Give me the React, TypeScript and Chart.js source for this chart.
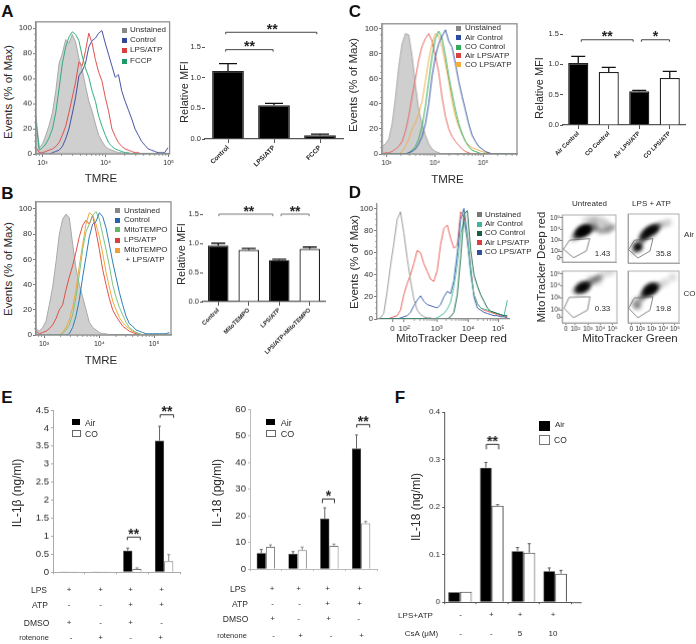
import React, { useEffect, useRef } from "react";
import { Chart, registerables } from "chart.js";
Chart.register(...registerables);

const FONT = '"Liberation Sans", Arial, sans-serif';
const TXT = "#2b2b2b";

// ---------- histogram data (values per channel) ----------
const aUnstained = [30,5,8,15,23,33,50,72,80,91,88,95,89,76,67,54,42,34,24,15,10,6,4,3,2,1,1,0,0,0,0,0,0,0,0,0,0,0,0,0,0];
const aFccp = [25,3,5,8,13,20,33,52,72,85,93,97,95,90,78,68,61,50,42,30,22,15,9,6,4,3,2,1,1,0,0,0,0,0,0,0,0,0,0,0,0];
const aLps = [5,1,1,2,3,4,6,9,15,22,33,45,57,73,70,82,96,88,75,65,58,45,34,20,14,9,6,4,3,2,1,1,0,0,0,0,0,0,0,0,0];
const aControl = [0,0,0,0,0,1,2,3,6,12,20,32,45,62,66,72,85,90,92,96,98,88,79,70,61,63,50,42,35,28,20,15,10,7,4,3,2,1,1,1,5];

const bUnstained = [5,3,6,11,24,38,58,80,92,96,93,72,53,40,30,20,10,6,4,2,1,1,0,0,0,0,0,0,0,0,0,0,0,0,0,0,0,0,0,0,1];
const bControl = [0,0,0,0,0,0,0,0,0,0,1,6,15,28,46,62,78,88,90,97,94,85,72,58,46,34,24,15,9,7,4,3,2,1,1,1,1,1,1,1,2];
const bMito = [0,0,0,0,0,0,0,0,1,4,8,16,30,48,68,82,88,95,98,92,80,68,55,40,30,22,16,10,6,4,2,1,0,0,0,0,0,0,0,0,0];
const bLps = [3,1,2,3,5,8,13,20,24,36,46,55,66,78,87,91,88,95,82,68,52,40,29,20,15,11,7,5,3,2,1,1,0,0,0,0,0,0,0,0,0];
const bMitoLps = [0,0,0,0,0,0,0,0,2,6,12,22,36,55,72,88,97,95,88,78,65,50,38,27,20,14,10,7,5,3,2,1,0,0,0,0,0,0,0,0,0];

const cUnstained = [6,8,12,24,45,70,88,96,95,78,55,35,24,15,8,4,2,1,0,0,0,0,0,0,0,0,0,0,0,0,0,0,0,0,0,0,0,0,0,0,0];
const cAirControl = [0,0,0,0,0,0,0,0,1,2,4,8,14,24,40,62,78,88,94,99,90,85,72,58,46,35,24,15,10,6,4,2,1,0,0,0,0,0,0,0,0];
const cCoControl = [0,0,0,0,0,0,0,0,1,3,6,12,22,38,58,78,92,98,92,78,62,48,35,24,16,10,6,3,2,1,0,0,0,0,0,0,0,0,0,0,0];
const cAirLps = [0,1,1,2,4,6,10,18,30,46,60,75,86,92,96,90,78,65,45,30,20,14,10,7,4,2,1,0,0,0,0,0,0,0,0,0,0,0,0,0,0];
const cCoLps = [0,0,0,0,0,0,2,6,12,20,25,32,42,58,75,88,96,94,85,72,58,42,30,22,16,10,7,5,4,3,2,1,1,0,0,0,0,0,0,0,0];

const dUnstained = [0,1,5,25,48,68,90,97,78,55,35,18,8,4,2,1,1,0,0,0,0,0,0,0,0,0,0,0,0,0,0,0,0,0,0,0,0,0,0,0];
const dAirControl = [0,0,0,0,0,0,0,0,0,0,0,0,0,0,0,0,0,0,1,3,5,9,15,30,50,78,88,72,40,22,14,10,9,8,7,6,5,4,3,17];
const dCoControl = [0,0,0,0,0,0,0,0,0,0,0,0,0,0,0,0,0,0,0,0,0,0,2,6,22,55,95,98,62,40,30,22,16,10,7,6,5,4,3,3];
const dAirLps = [0,0,0,0,1,2,3,8,22,32,40,50,62,60,50,43,36,34,44,67,82,85,73,64,67,97,92,70,45,22,14,10,8,7,6,5,4,3,3,2];
const dCoLps = [0,0,0,0,0,0,0,1,2,3,6,12,17,21,16,13,12,11,10,13,20,25,23,35,60,90,100,75,45,20,10,8,6,5,4,3,3,2,2,1];

// decade tick positions on each channel axis
const aDecades = [1.95, 21.1, 40.2];
const bDecades = [2.4, 19, 35.4];
const cDecades = [1.3, 15.8, 30.3];
const tmreLabels = ["10³", "10⁴", "10⁵"];
const dTicks = [4.6, 8.1, 17.8, 27.3, 36.3];
const dLabels = ["0", "10²", "10³", "10⁴", "10⁵"];
const logMinor = [0.301, 0.477, 0.602, 0.699, 0.778, 0.845, 0.903, 0.954];

// ---------- bar data ----------
const aCats = ["Control", "LPS/ATP", "FCCP"];
const aMfi = [1.11, 0.55, 0.06];
const aMfiTop = [1.23, 0.58, 0.08];
const bCats = ["Control", "MitoTEMPO", "LPS/ATP", "LPS/ATP+MitoTEMPO"];
const bMfi = [0.96, 0.89, 0.71, 0.905];
const bMfiTop = [1.0, 0.91, 0.725, 0.935];
const cCats = ["Air Control", "CO Control", "Air LPS/ATP", "CO LPS/ATP"];
const cMfi = [1.02, 0.875, 0.555, 0.775];
const cMfiTop = [1.13, 0.95, 0.57, 0.885];

const groupCats = ["1", "2", "3", "4"];
const il1Air = [0.01, 0.01, 0.6, 3.65];
const il1AirTop = [0.01, 0.01, 0.67, 4.05];
const il1Co = [0.01, 0.01, 0.09, 0.31];
const il1CoTop = [0.01, 0.01, 0.12, 0.49];
const il18Air = [6, 5.7, 18.9, 45.2];
const il18AirTop = [7.4, 6.6, 23, 50.3];
const il18Co = [8.4, 7.2, 8.8, 17.2];
const il18CoTop = [9.1, 8.3, 9.4, 17.9];
const fAir = [0.021, 0.283, 0.107, 0.065];
const fAirTop = [0.021, 0.294, 0.115, 0.072];
const fCo = [0.022, 0.203, 0.104, 0.06];
const fCoTop = [0.022, 0.205, 0.123, 0.067];

const e1Rows = [
  { label: "LPS", lx: 39, y: 590, xs: [69, 100.5, 130.5, 161.5], marks: ["+", "+", "+", "+"] },
  { label: "ATP", lx: 40, y: 604.5, xs: [69, 100.5, 130.5, 161.5], marks: ["-", "-", "+", "+"] },
  { label: "DMSO", lx: 36.5, y: 622.5, xs: [69, 100.5, 130.5, 161.5], marks: ["+", "-", "+", "-"] },
  { label: "rotenone", lx: 34, y: 638, xs: [71, 100.5, 130.5, 160.5], marks: ["-", "+", "-", "+"] },
];
const e2Rows = [
  { label: "LPS", lx: 238, y: 588.5, xs: [272, 298.5, 327.5, 359.5], marks: ["+", "+", "+", "+"] },
  { label: "ATP", lx: 240, y: 603.5, xs: [272.5, 299.5, 327.5, 359.5], marks: ["-", "-", "+", "+"] },
  { label: "DMSO", lx: 235.5, y: 619, xs: [272.5, 298.5, 328.5, 358.5], marks: ["+", "-", "+", "-"] },
  { label: "rotenone", lx: 232, y: 635.5, xs: [273.5, 300.5, 331, 361.5], marks: ["-", "+", "-", "+"] },
];
const fSigns = ["-", "+", "+", "+"];
const fCsa = ["-", "-", "5", "10"];
const fRowXs = [460.7, 491.3, 520, 553];

// ---------- density panels ----------
const p1Dark = [{x:2.2,y:3.5,r:3},{x:2.35,y:3.62,r:4},{x:2.5,y:3.72,r:4},{x:2.65,y:3.82,r:5},{x:2.8,y:3.9,r:5},{x:2.95,y:3.98,r:4},{x:3.1,y:4.05,r:3}];
const p1Mid = [{x:2.0,y:3.3,r:3},{x:3.4,y:4.15,r:4},{x:3.75,y:4.05,r:3},{x:4.15,y:3.82,r:3},{x:4.65,y:3.9,r:3},{x:5.05,y:4.15,r:3}];
const p1Light = [{x:2.93,y:4.78,r:4},{x:3.43,y:4.91,r:4},{x:3.93,y:4.78,r:5},{x:4.43,y:4.53,r:5},{x:3.5,y:4.45,r:6},{x:4.6,y:4.15,r:5},{x:1.85,y:3.05,r:3}];
const p2Dark = [{x:2.2,y:3.2,r:3},{x:2.4,y:3.42,r:4},{x:2.6,y:3.62,r:4},{x:2.8,y:3.78,r:4},{x:3.0,y:3.88,r:4},{x:3.2,y:3.98,r:4},{x:3.4,y:4.1,r:3},{x:1.85,y:2.46,r:4},{x:1.75,y:2.4,r:3}];
const p2Mid = [{x:1.55,y:2.13,r:3},{x:2.05,y:2.89,r:3},{x:3.68,y:4.28,r:3}];
const p2Light = [{x:4.43,y:4.53,r:4},{x:4.05,y:4.4,r:4},{x:1.6,y:2.6,r:5},{x:3.0,y:3.55,r:5}];
const p3Dark = [{x:2.2,y:3.66,r:3},{x:2.4,y:3.78,r:4},{x:2.6,y:3.88,r:5},{x:2.8,y:3.98,r:4},{x:3.0,y:4.12,r:3}];
const p3Mid = [{x:3.3,y:4.35,r:3},{x:3.6,y:4.55,r:3},{x:3.9,y:4.72,r:3},{x:1.95,y:3.55,r:2}];
const p3Light = [{x:4.3,y:4.99,r:4},{x:4.85,y:5.17,r:4},{x:3.8,y:4.45,r:5},{x:3.2,y:4.55,r:4}];
const p4Dark = [{x:2.4,y:3.36,r:3},{x:2.6,y:3.52,r:4},{x:2.8,y:3.66,r:5},{x:3.0,y:3.78,r:5},{x:3.2,y:3.88,r:4}];
const p4Mid = [{x:1.75,y:2.37,r:4},{x:2.05,y:2.93,r:3},{x:2.25,y:3.15,r:3},{x:3.5,y:4.0,r:3}];
const p4Light = [{x:3.68,y:4.05,r:4},{x:4.18,y:4.32,r:4},{x:4.8,y:4.72,r:4},{x:1.6,y:2.6,r:5}];
const p1Gate = [{x:1.55,y:3.01},{x:3.2,y:3.14},{x:2.93,y:2.05},{x:1.88,y:1.44},{x:1.05,y:2.2},{x:1.55,y:3.01}];
const p2Gate = [{x:1.5,y:3.01},{x:3.1,y:3.14},{x:2.85,y:2.08},{x:1.8,y:1.49},{x:1.0,y:2.2},{x:1.5,y:3.01}];
const p3Gate = [{x:1.5,y:3.04},{x:3.18,y:3.09},{x:2.98,y:1.97},{x:1.85,y:1.33},{x:1.1,y:2.13},{x:1.5,y:3.04}];
const p4Gate = [{x:1.5,y:3.0},{x:3.1,y:3.07},{x:2.85,y:1.97},{x:1.8,y:1.33},{x:1.0,y:2.13},{x:1.5,y:3.0}];
const densXTicks = [1.23, 2, 3, 4, 5];
const densTopYTicks = [1.43, 2, 3, 4, 5];
const densBottomYTicks = [1.4, 2, 3, 4, 5];
const densLabels = ["0", "10²", "10³", "10⁴", "10⁵"];

// ---------- helpers ----------
type Box = { l: number; t: number; r: number; b: number; ml: number; mt: number; mr: number; mb: number };

function ChartBox({ box, config }: { box: Box; config: any }) {
  const ref = useRef<HTMLCanvasElement>(null);
  useEffect(() => {
    const { ml, mt, mr, mb } = box;
    const cfg = { ...config };
    cfg.options = {
      responsive: false,
      animation: false,
      devicePixelRatio: 1,
      layout: { padding: { top: mt, right: mr, left: 0, bottom: 0 } },
      ...config.options,
      plugins: { legend: { display: false }, tooltip: { enabled: false }, ...(config.options.plugins || {}) },
    };
    cfg.options.scales.x.afterFit = (s: any) => { s.height = mb; };
    cfg.options.scales.y.afterFit = (s: any) => { s.width = ml; };
    const c = new Chart(ref.current as any, cfg);
    return () => c.destroy();
  }, []);
  const w = box.r - box.l + box.ml + box.mr;
  const h = box.b - box.t + box.mt + box.mb;
  return (
    <canvas
      ref={ref}
      width={w}
      height={h}
      style={{ position: "absolute", left: box.l - box.ml, top: box.t - box.mt, width: w, height: h }}
    />
  );
}

function T({ x, y, s, size = 8, anchor = "c", rot = 0, bold = false }: any) {
  const tx = anchor === "c" ? "-50%" : anchor === "l" ? "0" : "-100%";
  return (
    <div
      style={{
        position: "absolute", left: x, top: y, whiteSpace: "nowrap", lineHeight: 1, color: bold ? "#111" : TXT,
        fontFamily: FONT, fontSize: size, fontWeight: bold ? 700 : 400,
        transform: `translate(${tx},-50%)` + (rot ? ` rotate(${rot}deg)` : ""),
      }}
    >
      {s}
    </div>
  );
}

function Legend({ x, tx, items, size = 8 }: any) {
  return items.map((it: any) => (
    <React.Fragment key={it.label}>
      {it.c && (
        <div style={{ position: "absolute", left: x - 2.5, top: it.y - 2.5, width: 5, height: 5, background: it.c }} />
      )}
      <T x={it.c ? tx : tx + 1.5} y={it.y} s={it.label} size={size} anchor="l" />
    </React.Fragment>
  ));
}

const series = (v: number[], color: string, extra: any = {}) => ({
  data: v.map((y, i) => ({ x: i, y })),
  borderColor: color,
  borderWidth: 1,
  pointRadius: 0,
  fill: false,
  tension: 0,
  order: 1,
  ...extra,
});
const shaded = (v: number[]) => series(v, "#a9a9a9", { fill: "origin", backgroundColor: "#cfcfcf", order: 10 });
const thin = (v: number[], color: string) => series(v, color);

const framePlugin = (color: string, xMinor: number[], yMinor: number[], width = 1.3) => ({
  id: "frame",
  afterDraw(chart: any) {
    const { ctx, chartArea: a, scales } = chart;
    ctx.save();
    ctx.strokeStyle = color;
    ctx.lineWidth = width;
    ctx.strokeRect(a.left, a.top, a.right - a.left, a.bottom - a.top);
    ctx.strokeStyle = "#888";
    ctx.lineWidth = 0.8;
    xMinor.forEach((v) => {
      const p = scales.x.getPixelForValue(v);
      if (p < a.left || p > a.right) return;
      ctx.beginPath(); ctx.moveTo(p, a.bottom); ctx.lineTo(p, a.bottom + 2); ctx.stroke();
    });
    yMinor.forEach((v) => {
      const p = scales.y.getPixelForValue(v);
      ctx.beginPath(); ctx.moveTo(a.left, p); ctx.lineTo(a.left - 2, p); ctx.stroke();
    });
    ctx.restore();
  },
});

const minorFrom = (decades: number[]) => {
  const step = decades[1] - decades[0];
  const out: number[] = [];
  for (let d = -1; d < decades.length; d++) logMinor.forEach((m) => out.push(decades[0] + (d + m) * step));
  return out;
};
const yMinorTicks = [5, 10, 15, 25, 30, 35, 45, 50, 55, 65, 70, 75, 85, 90, 95];

const histConfig = (datasets: any[], ticks: number[], labels: string[], yMax: number, xMax: number, frame = true, tickFont = 7) => ({
  type: "line",
  data: { datasets },
  options: {
    scales: {
      x: {
        type: "linear", min: 0, max: xMax,
        afterBuildTicks: (s: any) => { s.ticks = ticks.map((value) => ({ value })); },
        ticks: {
          autoSkip: false, maxRotation: 0, minRotation: 0, padding: 2, color: TXT,
          font: { family: FONT, size: tickFont },
          callback: (_v: any, i: number) => labels[i],
        },
        grid: { drawOnChartArea: false, tickLength: 3, color: "#777" },
        border: { color: "#888", width: 1.2 },
      },
      y: {
        min: 0, max: yMax,
        afterBuildTicks: (s: any) => { s.ticks = [0, 20, 40, 60, 80, 100].map((value) => ({ value })); },
        ticks: { padding: 1, color: TXT, font: { family: FONT, size: 8 } },
        grid: { drawOnChartArea: false, tickLength: 3, color: "#777" },
        border: { color: "#888", width: 1.2 },
      },
    },
  },
  plugins: [framePlugin(frame ? "#8f8f8f" : "rgba(0,0,0,0)", minorFrom(ticks.length === 3 ? ticks : [17.8, 27.3, 36.3]), yMinorTicks)],
});

const errorBars = (capHalf: number) => ({
  id: "errs",
  afterDatasetsDraw(chart: any) {
    const { ctx, scales } = chart;
    chart.data.datasets.forEach((ds: any, di: number) => {
      const meta = chart.getDatasetMeta(di);
      ctx.save();
      ctx.strokeStyle = ds.errColor || "#000";
      ctx.lineWidth = ds.errWidth || 1.2;
      meta.data.forEach((bar: any, i: number) => {
        const top = ds.errTop[i];
        if (top === ds.data[i]) return;
        const y1 = scales.y.getPixelForValue(ds.data[i]);
        const y2 = scales.y.getPixelForValue(top);
        ctx.beginPath();
        ctx.moveTo(bar.x, y1); ctx.lineTo(bar.x, y2);
        ctx.moveTo(bar.x - capHalf, y2); ctx.lineTo(bar.x + capHalf, y2);
        ctx.stroke();
      });
      ctx.restore();
    });
  },
});

const brackets = (list: any[], color: string, extendRight = 0) => ({
  id: "brackets",
  afterDraw(chart: any) {
    const { ctx, scales, chartArea: a } = chart;
    ctx.save();
    list.forEach((b) => {
      const x1 = scales.x.getPixelForValue(b.a);
      const x2 = scales.x.getPixelForValue(b.b);
      const y = scales.y.getPixelForValue(b.y);
      ctx.strokeStyle = color;
      ctx.lineWidth = 1;
      ctx.beginPath();
      ctx.moveTo(x1, y + (b.drop || 2)); ctx.lineTo(x1, y); ctx.lineTo(x2, y); ctx.lineTo(x2, y + (b.drop || 2));
      ctx.stroke();
      ctx.fillStyle = "#222";
      ctx.font = `bold 14px ${FONT}`;
      ctx.textAlign = "center";
      ctx.textBaseline = "alphabetic";
      ctx.fillText(b.label, (x1 + x2) / 2 + (b.dx || 0), y + 1.5);
    });
    if (extendRight) {
      ctx.strokeStyle = "#555";
      ctx.lineWidth = 1;
      ctx.beginPath(); ctx.moveTo(a.right, a.bottom + 0.5); ctx.lineTo(a.right + extendRight, a.bottom + 0.5); ctx.stroke();
    }
    ctx.restore();
  },
});

const mfiConfig = (cats: string[], vals: number[], tops: number[], colors: string[], pct: number, capHalf: number, list: any[], bracketColor: string, labelSize: number) => ({
  type: "bar",
  data: {
    labels: cats,
    datasets: [{
      data: vals, errTop: tops, errColor: "#111", errWidth: 1.3,
      backgroundColor: colors, borderColor: "#222", borderWidth: 1.3, barPercentage: pct, categoryPercentage: 1,
    }],
  },
  options: {
    scales: {
      x: {
        ticks: { autoSkip: false, minRotation: 45, maxRotation: 45, padding: 1, color: "#222", font: { family: FONT, size: labelSize, weight: "bold" } },
        grid: { drawOnChartArea: false, offset: false, tickLength: 4, color: "#555" },
        border: { color: "#555", width: 1.2 },
      },
      y: {
        min: 0, max: 1.5,
        ticks: { stepSize: 0.5, padding: 1, color: TXT, font: { family: FONT, size: 7.5 }, callback: (v: number) => v.toFixed(1) },
        grid: { drawOnChartArea: false, tickLength: 3, color: "#555" },
        border: { display: false },
      },
    },
  },
  plugins: [errorBars(capHalf), brackets(list, bracketColor)],
});

const groupConfig = (air: number[], airTop: number[], co: number[], coTop: number[], opt: any, list: any[], extra = 0) => ({
  type: "bar",
  data: {
    labels: groupCats,
    datasets: [
      { data: air, errTop: airTop, errColor: opt.errAir, errWidth: 1, backgroundColor: "#000", borderColor: "#000", borderWidth: 0.5, barPercentage: 1, categoryPercentage: opt.pct },
      { data: co, errTop: coTop, errColor: opt.errCo, errWidth: 1, backgroundColor: "#fff", borderColor: opt.coBorder, borderWidth: 1, barPercentage: 1, categoryPercentage: opt.pct },
    ],
  },
  options: {
    scales: {
      x: {
        ticks: { display: false },
        grid: { drawOnChartArea: false, offset: true, tickLength: 2, color: opt.axis },
        border: { color: opt.axis, width: 1 },
      },
      y: {
        min: 0, max: opt.max,
        ticks: { stepSize: opt.step, padding: opt.padding, color: TXT, font: { family: FONT, size: opt.size }, callback: opt.fmt },
        grid: { drawOnChartArea: false, tickLength: 2, color: opt.axis },
        border: { color: opt.axis, width: 1 },
      },
    },
  },
  plugins: [errorBars(1.5), brackets(list, "#333", extra)],
});

const blur = {
  id: "blur",
  beforeDatasetDraw(chart: any, args: any) {
    if (args.meta.type === "bubble") chart.ctx.filter = "blur(2px)";
  },
  afterDatasetDraw(chart: any) {
    chart.ctx.filter = "none";
  },
};

const blobs = (data: any[], alpha: number, order: number) => ({
  type: "bubble", data, backgroundColor: `rgba(0,0,0,${alpha})`, borderWidth: 0, order,
});

const densConfig = (dark: any[], mid: any[], light: any[], gate: any[], showX: boolean, showY: boolean, yMin: number, yTicks: number[]) => ({
  type: "bubble",
  data: {
    datasets: [
      { type: "scatter", data: gate, showLine: true, borderColor: "#555", borderWidth: 0.7, pointRadius: 0, order: 0 },
      blobs(dark, 0.95, 1),
      blobs(mid, 0.45, 2),
      blobs(light, 0.15, 3),
    ],
  },
  options: {
    scales: {
      x: {
        type: "linear", min: 0.95, max: 5.35,
        afterBuildTicks: (s: any) => { s.ticks = densXTicks.map((value) => ({ value })); },
        ticks: { display: showX, autoSkip: false, maxRotation: 0, padding: 0, color: TXT, font: { family: FONT, size: 6.5 }, callback: (_v: any, i: number) => densLabels[i] },
        grid: { drawOnChartArea: false, drawTicks: showX, tickLength: 2, color: "#777" },
        border: { color: "#999", width: 0.8 },
      },
      y: {
        type: "linear", min: yMin, max: 5.25,
        afterBuildTicks: (s: any) => { s.ticks = yTicks.map((value) => ({ value })); },
        ticks: { display: showY, autoSkip: false, padding: 0, color: TXT, font: { family: FONT, size: 6.5 }, callback: (_v: any, i: number) => densLabels[i] },
        grid: { drawOnChartArea: false, drawTicks: showY, tickLength: 2, color: "#777" },
        border: { color: "#999", width: 0.8 },
      },
    },
  },
  plugins: [blur, framePlugin("#999", [], [], 0.8)],
});

const BW2 = ["#000", "#fff", "#000", "#fff"];

const fmtPlain = (v: number) => String(v);
const fmtF = (v: number) => (v === 0 ? "0" : v.toFixed(1));

function Rows({ rows, size = 8.5 }: any) {
  return rows.map((r: any) => (
    <React.Fragment key={r.label + r.lx}>
      <T x={r.lx} y={r.y} s={r.label} size={r.label === "rotenone" ? 7.5 : size} />
      {r.marks.map((m: string, i: number) => (
        <T key={i} x={r.xs[i]} y={r.y} s={m} size={8} />
      ))}
    </React.Fragment>
  ));
}

export default function App() {
  return (
    <div style={{ position: "absolute", left: 0, top: 0, width: 696, height: 644, overflow: "hidden", background: "#fff" }}>
      {/* Panel A */}
      <ChartBox box={{ l: 36, t: 20, r: 171, b: 153.7, ml: 20, mt: 4, mr: 5, mb: 20 }}
        config={histConfig([shaded(aUnstained), thin(aFccp, "#2fae7a"), thin(aLps, "#e0504c"), thin(aControl, "#44509f")], aDecades, tmreLabels, 105, 40.5)} />
      <ChartBox box={{ l: 205, t: 47.3, r: 343, b: 139.3, ml: 30, mt: 35, mr: 5, mb: 50 }}
        config={mfiConfig(aCats, aMfi, aMfiTop, ["#000", "#000", "#000"], 0.69, 9, [
          { a: -0.05, b: 1.93, y: 1.74, label: "**", dx: 1 },
          { a: -0.05, b: 0.98, y: 1.457, label: "**" },
        ], "#444", 6.5)} />
      {/* Panel B */}
      <ChartBox box={{ l: 36, t: 200, r: 171, b: 335.3, ml: 20, mt: 4, mr: 5, mb: 20 }}
        config={histConfig([shaded(bUnstained), thin(bControl, "#2b7fb8"), thin(bMito, "#7cc47f"), thin(bMitoLps, "#efa93f"), thin(bLps, "#df5045")], bDecades, tmreLabels, 105.7, 40.5)} />
      <ChartBox box={{ l: 202.75, t: 214, r: 324.75, b: 301.7, ml: 30, mt: 20, mr: 5, mb: 65 }}
        config={mfiConfig(bCats, bMfi, bMfiTop, BW2, 0.675, 7, [
          { a: 0.02, b: 1.79, y: 1.5, label: "**", dx: 3 },
          { a: 2.06, b: 2.98, y: 1.5, label: "**" },
        ], "#777", 6)} />
      {/* Panel C */}
      <ChartBox box={{ l: 382.3, t: 21.7, r: 516.7, b: 154.3, ml: 20, mt: 4, mr: 5, mb: 20 }}
        config={histConfig([shaded(cUnstained), thin(cAirControl, "#3c5aa8"), thin(cCoControl, "#35ad5e"), thin(cCoLps, "#efb04a"), thin(cAirLps, "#e56a65")], cDecades, tmreLabels, 103.8, 40.5)} />
      <ChartBox box={{ l: 562.5, t: 34.3, r: 684.5, b: 125.3, ml: 30, mt: 20, mr: 5, mb: 50 }}
        config={mfiConfig(cCats, cMfi, cMfiTop, BW2, 0.66, 7, [
          { a: 0.1, b: 1.8, y: 1.405, label: "**" },
          { a: 2.07, b: 2.99, y: 1.405, label: "*" },
        ], "#444", 6)} />
      {/* Panel D */}
      <ChartBox box={{ l: 377.3, t: 202, r: 509, b: 319.3, ml: 20, mt: 4, mr: 5, mb: 18 }}
        config={histConfig([thin(dUnstained, "#9a9a9a"), thin(dCoControl, "#1f6e4a"), thin(dAirControl, "#4dbba3"), thin(dCoLps, "#4566b0"), thin(dAirLps, "#e8645e")], dTicks, dLabels, 104.2, 39.5, false, 8)} />
      <ChartBox box={{ l: 562, t: 210.7, r: 620.7, b: 265.7, ml: 18, mt: 2, mr: 1, mb: 2 }}
        config={densConfig(p1Dark, p1Mid, p1Light, p1Gate, false, true, 1.06, densTopYTicks)} />
      <ChartBox box={{ l: 624.7, t: 210.7, r: 682.7, b: 265.7, ml: 2, mt: 2, mr: 1, mb: 2 }}
        config={densConfig(p2Dark, p2Mid, p2Light, p2Gate, false, false, 1.06, densTopYTicks)} />
      <ChartBox box={{ l: 562, t: 268.3, r: 620.7, b: 322.7, ml: 18, mt: 2, mr: 1, mb: 12 }}
        config={densConfig(p3Dark, p3Mid, p3Light, p3Gate, true, true, 0.9, densBottomYTicks)} />
      <ChartBox box={{ l: 624.7, t: 268.3, r: 682.7, b: 322.7, ml: 2, mt: 2, mr: 1, mb: 12 }}
        config={densConfig(p4Dark, p4Mid, p4Light, p4Gate, true, false, 0.9, densBottomYTicks)} />
      {/* Panel E */}
      <ChartBox box={{ l: 52.7, t: 410.3, r: 180, b: 573.7, ml: 30, mt: 10, mr: 2, mb: 6 }}
        config={groupConfig(il1Air, il1AirTop, il1Co, il1CoTop,
          { pct: 0.58, errAir: "#666", errCo: "#888", coBorder: "#777", axis: "#aaa", max: 4.5, step: 0.5, padding: 2, size: 9.6, fmt: fmtPlain },
          [{ a: 1.84, b: 2.25, y: 0.975, label: "**", drop: 3 }, { a: 2.875, b: 3.3, y: 4.37, label: "**", drop: 3 }])} />
      <ChartBox box={{ l: 250, t: 409.3, r: 377.3, b: 571, ml: 30, mt: 10, mr: 2, mb: 6 }}
        config={groupConfig(il18Air, il18AirTop, il18Co, il18CoTop,
          { pct: 0.58, errAir: "#666", errCo: "#888", coBorder: "#777", axis: "#bbb", max: 60, step: 10, padding: 2, size: 9.6, fmt: fmtPlain },
          [{ a: 1.78, b: 2.16, y: 26.3, label: "*", drop: 4 }, { a: 2.86, b: 3.27, y: 54.2, label: "**", drop: 3 }])} />
      {/* Panel F */}
      <ChartBox box={{ l: 444.2, t: 411.7, r: 571, b: 603.3, ml: 30, mt: 10, mr: 13, mb: 6 }}
        config={groupConfig(fAir, fAirTop, fCo, fCoTop,
          { pct: 0.74, errAir: "#555", errCo: "#555", coBorder: "#333", axis: "#555", max: 0.4, step: 0.1, padding: 2, size: 8, fmt: fmtF },
          [{ a: 0.83, b: 1.22, y: 0.332, label: "**", drop: 5 }], 10.7)} />

      {/* Panel letters */}
      <T x={7.5} y={11} s="A" size={17} bold />
      <T x={7.5} y={192.5} s="B" size={17} bold />
      <T x={355} y={10.5} s="C" size={17} bold />
      <T x={355} y={192} s="D" size={17} bold />
      <T x={7} y={397} s="E" size={17} bold />
      <T x={400} y={397} s="F" size={17} bold />

      {/* Axis titles */}
      <T x={9} y={91.5} s="Events (% of Max)" size={11.5} rot={-90} />
      <T x={9} y={269} s="Events (% of Max)" size={11.5} rot={-90} />
      <T x={354} y={85} s="Events (% of Max)" size={11.5} rot={-90} />
      <T x={355} y={262} s="Events (% of Max)" size={11.5} rot={-90} />
      <T x={101} y={179} s="TMRE" size={11.5} />
      <T x={101} y={360.5} s="TMRE" size={11.5} />
      <T x={447.5} y={180} s="TMRE" size={11.5} />
      <T x={451.5} y={339} s="MitoTracker Deep red" size={11.5} />
      <T x={630} y={339} s="MitoTracker Green" size={11.5} />
      <T x={541.5} y={266.5} s="MitoTracker Deep red" size={11.5} rot={-90} />
      <T x={184} y={92} s="Relative MFI" size={11} rot={-90} />
      <T x={180.5} y={254} s="Relative MFI" size={11} rot={-90} />
      <T x={539} y={88} s="Relative MFI" size={11} rot={-90} />
      <T x={17} y={492.5} s="IL-1β (ng/ml)" size={12} rot={-90} />
      <T x={216.5} y={493} s="IL-18 (pg/ml)" size={12} rot={-90} />
      <T x={416} y={506.5} s="IL-18 (ng/ml)" size={12} rot={-90} />

      {/* Legends */}
      <Legend x={124} tx={130} items={[
        { c: "#888", label: "Unstained", y: 30 }, { c: "#34459c", label: "Control", y: 40 },
        { c: "#d9403c", label: "LPS/ATP", y: 50 }, { c: "#1f9a66", label: "FCCP", y: 61 }]} />
      <Legend x={117} tx={124} items={[
        { c: "#888", label: "Unstained", y: 210.7 }, { c: "#2463ad", label: "Control", y: 220.3 },
        { c: "#62b868", label: "MitoTEMPO", y: 229.7 }, { c: "#d9403c", label: "LPS/ATP", y: 240 },
        { c: "#efa030", label: "MitoTEMPO ", y: 250 }, { label: "+ LPS/ATP", y: 260 }]} />
      <Legend x={458.3} tx={465} items={[
        { c: "#888", label: "Unstained", y: 28.3 }, { c: "#2a4ba0", label: "Air Control", y: 37.7 },
        { c: "#35a85a", label: "CO Control", y: 47 }, { c: "#d9403c", label: "Air LPS/ATP", y: 55.8 },
        { c: "#efb040", label: "CO LPS/ATP", y: 64.7 }]} />
      <Legend x={479.3} tx={485} items={[
        { c: "#777", label: "Unstained", y: 214.7 }, { c: "#40b49c", label: "Air Control", y: 224.3 },
        { c: "#16603f", label: "CO Control", y: 233.3 }, { c: "#d9403c", label: "Air LPS/ATP", y: 242.7 },
        { c: "#2f4f9f", label: "CO LPS/ATP", y: 252 }]} />

      {/* Density labels */}
      <T x={589.5} y={204} s="Untreated" size={8} />
      <T x={651.5} y={204} s="LPS + ATP" size={8} />
      <T x={689} y={235} s="Air" size={8} />
      <T x={689.5} y={294} s="CO" size={8} />
      <T x={602.5} y={254} s="1.43" size={8} />
      <T x={663.5} y={254} s="35.8" size={8} />
      <T x={602.5} y={309} s="0.33" size={8} />
      <T x={663.5} y={309} s="19.8" size={8} />

      {/* E legends and rows */}
      <div style={{ position: "absolute", left: 72, top: 419, width: 8, height: 6, background: "#000" }} />
      <div style={{ position: "absolute", left: 72, top: 430, width: 7, height: 5, border: "1px solid #666" }} />
      <T x={85} y={422.5} s="Air" size={8.5} anchor="l" />
      <T x={85} y={433.5} s="CO" size={8.5} anchor="l" />
      <div style={{ position: "absolute", left: 266, top: 419, width: 9, height: 6, background: "#000" }} />
      <div style={{ position: "absolute", left: 266, top: 430, width: 8, height: 5, border: "1px solid #666" }} />
      <T x={280.7} y={422.5} s="Air" size={9} anchor="l" />
      <T x={280.7} y={433.5} s="CO" size={9} anchor="l" />
      <Rows rows={e1Rows} />
      <Rows rows={e2Rows} size={8.5} />

      {/* F legend and rows */}
      <div style={{ position: "absolute", left: 538.5, top: 420.5, width: 11, height: 10, background: "#000" }} />
      <div style={{ position: "absolute", left: 538.5, top: 434.5, width: 9.5, height: 8.5, border: "1px solid #777" }} />
      <T x={555} y={425} s="Air" size={8} anchor="l" />
      <T x={554} y={440} s="CO" size={8.5} anchor="l" />
      <T x={415.5} y={615.5} s="LPS+ATP" size={8} />
      <T x={421.5} y={633.5} s="CsA (μM)" size={8} />
      {fSigns.map((m, i) => <T key={"s" + i} x={fRowXs[i]} y={615} s={m} size={8} />)}
      {fCsa.map((m, i) => <T key={"c" + i} x={fRowXs[i]} y={633.5} s={m} size={8} />)}
    </div>
  );
}
